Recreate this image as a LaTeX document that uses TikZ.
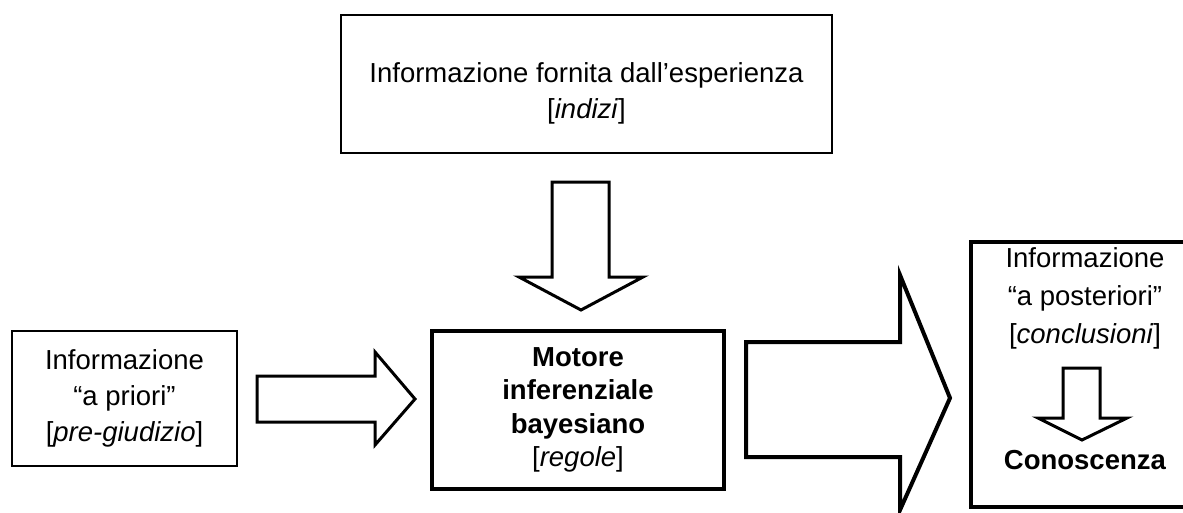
\documentclass[tikz,border=0pt]{standalone}
\usepackage{fontspec}
\setmainfont{Liberation Sans}
\begin{document}
\begin{tikzpicture}[x=1pt,y=-1pt,
  infobox/.style={draw,rectangle,align=center,inner sep=0pt,font=\fontsize{27.5}{36}\selectfont},
  textlabel/.style={align=center,inner sep=0pt,font=\fontsize{27.5}{38}\selectfont},
  blockarrow/.style={draw,line width=3pt,fill=white,line join=miter}]
\useasboundingbox (0,0) rectangle (1183,512);
\node[infobox,line width=2pt,minimum width=491pt,minimum height=138pt] (esperienza) at (586.5,84) {};
\node[textlabel,font=\fontsize{27.5}{36}\selectfont] (indizi) at (586.5,93) {Informazione fornita dall’esperienza\\{}[\textit{indizi}]};
\node[infobox,line width=2.5pt,minimum width=225pt,minimum height=135pt] (priori) at (124.5,398.5) {Informazione\\“a priori”\\{}[\textit{pre-giudizio}]};
\node[infobox,line width=4.5pt,minimum width=292pt,minimum height=158pt,font=\fontsize{27.5}{33.5}\selectfont] (motore) at (578,410) {\textbf{Motore}\\\textbf{inferenziale}\\\textbf{bayesiano}\\{}[\textit{regole}]};
\node[infobox,line width=3.5pt,minimum width=230pt,minimum height=265pt] (posteriori) at (1086,374.5) {};
\node[textlabel] (conclusioni) at (1085,298) {Informazione\\“a posteriori”\\{}[\textit{conclusioni}]};
\node[textlabel] (conoscenza) at (1085,460) {\textbf{Conoscenza}};
% block arrows
\draw[blockarrow] (552,182) -- (609,182) -- (609,277) -- (643,277) -- (581,310) -- (519,277) -- (552,277) -- cycle;
\draw[blockarrow] (257,376) -- (375,376) -- (375,352) -- (415,399) -- (375,445) -- (375,422) -- (257,422) -- cycle;
\draw[blockarrow,line width=4pt] (746,342) -- (900,342) -- (900,275) -- (950,398) -- (900,510) -- (900,457) -- (746,457) -- cycle;
\draw[blockarrow] (1063,368) -- (1100,368) -- (1100,418) -- (1127,418) -- (1082,440) -- (1038,418) -- (1063,418) -- cycle;
\end{tikzpicture}
\end{document}
